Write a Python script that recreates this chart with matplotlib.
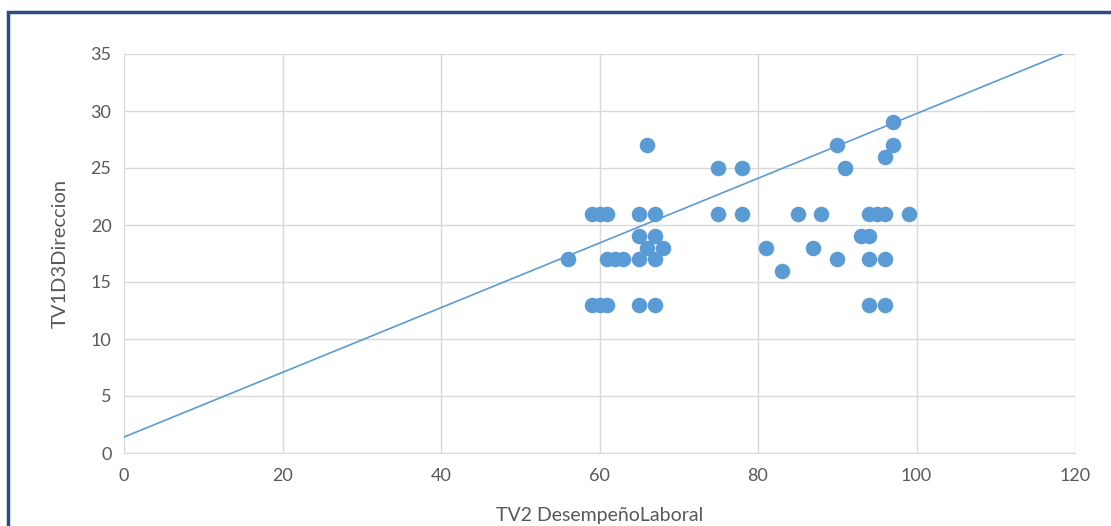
import matplotlib.pyplot as plt
from matplotlib.patches import Rectangle

plt.rcParams['font.family'] = ['Lato', 'DejaVu Sans']

# datos
desempeno = [56, 59, 60, 61, 59, 60, 61, 61, 62, 63,
             65, 67, 65, 67, 66, 68, 65, 67, 65, 67, 66,
             75, 78, 75, 78, 81, 83, 85, 87, 88,
             90, 90, 91, 93, 94, 94, 95, 96, 94, 96, 94, 96,
             96, 97, 97, 99]
direccion = [17, 21, 21, 21, 13, 13, 13, 17, 17, 17,
             21, 21, 19, 19, 18, 18, 17, 17, 13, 13, 27,
             25, 25, 21, 21, 18, 16, 21, 18, 21,
             27, 17, 25, 19, 19, 21, 21, 21, 17, 17, 13, 13,
             26, 27, 29, 21]

# linea de tendencia
trend_x = [0, 118.8]
intercepto = 1.4
pendiente = 0.2837

blue = '#5b9bd5'
grey_txt = '#595959'

fig = plt.figure(figsize=(11.11, 5.26), dpi=100)
ax = fig.add_axes([124/1111, 73/526, 951/1111, 399/526])

ax.scatter(desempeno, direccion, s=125, color=blue, zorder=3, linewidths=0)
ax.plot(trend_x, [intercepto + pendiente*x for x in trend_x], color=blue, lw=1.2, zorder=2)

ax.set_xlim(0, 120)
ax.set_ylim(0, 35)
ax.set_xticks(range(0, 121, 20))
ax.set_yticks(range(0, 36, 5))
ax.grid(True, color='#d9d9d9', lw=1)
ax.set_axisbelow(True)
for s in ['top', 'right', 'left']:
    ax.spines[s].set_visible(False)
ax.spines['bottom'].set_color('#d9d9d9')
ax.tick_params(length=0, colors=grey_txt, labelsize=13)
ax.tick_params(axis='y', pad=9)
ax.tick_params(axis='x', pad=11)

ax.set_xlabel('TV2 DesempeñoLaboral', color=grey_txt, fontsize=14, labelpad=16)
ax.set_ylabel('TV1D3Direccion', color=grey_txt, fontsize=14.5, labelpad=16)

# marco azul del cuadro
fig.patches.append(Rectangle((8/1111, -0.05), 1.2, 0.05 + (526-12)/526,
                             transform=fig.transFigure, fill=False,
                             edgecolor='#2f4a84', lw=2.5))

fig.savefig('out.png', dpi=100)
